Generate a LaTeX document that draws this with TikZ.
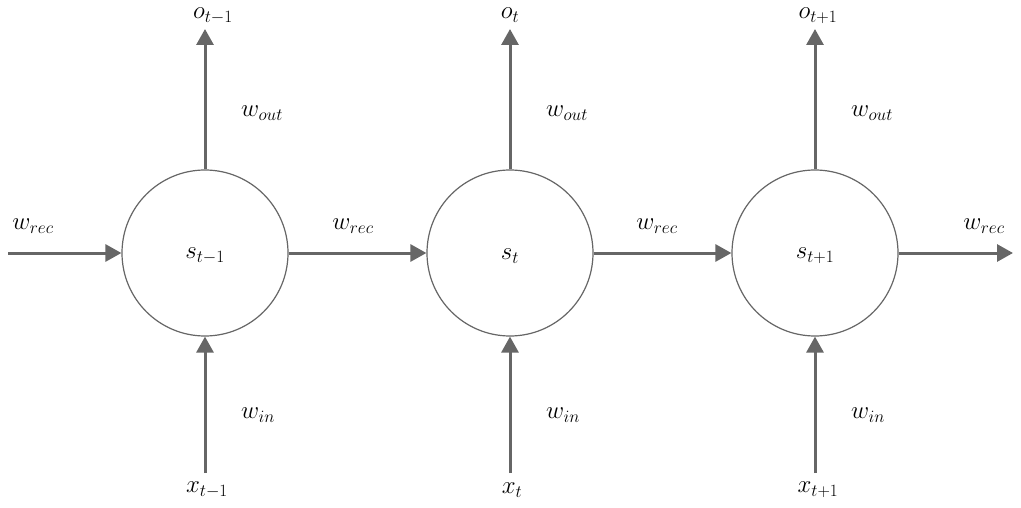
\documentclass[tikz,border=0pt]{standalone}
\usetikzlibrary{arrows.meta}
\begin{document}
\begin{tikzpicture}[x=1pt,y=-1pt,
  cell/.style={circle,draw=black!60,line width=1.2pt,minimum size=166pt,inner sep=0pt,fill=white},
  conn/.style={draw=black!60,line width=3pt,-{Triangle[length=16pt,width=17pt]}},
  lbl/.style={inner sep=0pt,font=\fontsize{25}{30}\selectfont}]
\useasboundingbox (0,0) rectangle (1021,508);
\foreach \i/\x/\s/\xo/\xl in {1/205/{t-1}/213/207, 2/510/t/510/512, 3/815/{t+1}/818/818}{
  \node[cell] (c\i) at (\x,253) {};
  \node[lbl] (s\i) at (\x,256) {$s_{\s}$};
  \node[lbl,anchor=north] (o\i) at (\xo,8) {$o_{\s}$};
  \node[lbl] (x\i) at (\xl,490) {$x_{\s}$};
  \coordinate (top\i) at (\x,29);
  \coordinate (bot\i) at (\x,473);
  \draw[conn] (c\i.north) -- (top\i);
  \draw[conn] (bot\i) -- (c\i.south);
  \node[lbl] (wo\i) at (\x+57,113) {$w_{out}$};
  \node[lbl] (wi\i) at (\x+53,415) {$w_{in}$};
}
\coordinate (inL) at (8,253);
\coordinate (outR) at (1013,253);
\draw[conn] (inL) -- (c1.west);
\draw[conn] (c1.east) -- (c2.west);
\draw[conn] (c2.east) -- (c3.west);
\draw[conn] (c3.east) -- (outR);
\node[lbl] (wr0) at (33,226) {$w_{rec}$};
\node[lbl] (wr1) at (353,226) {$w_{rec}$};
\node[lbl] (wr2) at (657,226) {$w_{rec}$};
\node[lbl] (wr3) at (984,226) {$w_{rec}$};
\end{tikzpicture}
\end{document}
